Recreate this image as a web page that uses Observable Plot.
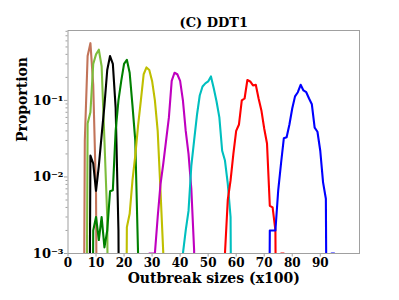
<!DOCTYPE html>
<html>
<head>
<meta charset="utf-8">
<script src="https://cdn.jsdelivr.net/npm/d3@7"></script>
<script src="https://cdn.jsdelivr.net/npm/@observablehq/plot@0.6"></script>
<style>
  html, body { margin: 0; padding: 0; background: #fff; }
</style>
</head>
<body>
<div id="chart"></div>
<script>
// Outbreak size (x100) and proportion per series
const brownX  = [5, 6, 7, 8, 9, 10, 11];
const brownP  = [0, 0.03, 0.38, 0.56, 0.16, 0.006, 0];

const oliveX  = [6, 7, 8, 9, 10, 11, 12, 13, 14, 15];
const oliveP  = [0, 0.05, 0.07, 0.3, 0.4, 0.46, 0.28, 0.03, 0.003, 0];

const blackX  = [7, 8, 9, 10, 11, 12, 13, 14, 15, 16, 17, 18, 19];
const blackP  = [0, 0.019, 0.015, 0.0066, 0.014, 0.035, 0.086, 0.25, 0.38, 0.3, 0.08, 0.002, 0];

const greenX  = [8, 9, 10, 11, 12, 13, 14, 15, 16, 17, 18, 19, 20, 21, 22, 23, 24, 25, 26];
const greenP  = [0, 0.002, 0.003, 0.0015, 0.003, 0.0012, 0.002, 0.0065, 0.0067, 0.04, 0.1, 0.18, 0.3, 0.34, 0.23, 0.086, 0.03, 0.001, 0];

const yellowX = [20, 21, 22, 23, 24, 25, 26, 27, 28, 29, 30, 31, 32, 33, 34, 35];
const yellowP = [0, 0.0022, 0.0033, 0.009, 0.019, 0.047, 0.1, 0.22, 0.27, 0.25, 0.18, 0.1, 0.04, 0.0066, 0.001, 0];

const magentaX = [28, 29, 30, 31, 32, 33, 34, 35, 36, 37, 38, 39, 40, 41, 42, 43, 44, 45, 46];
const magentaP = [0, 0.001, 0.001, 0.001, 0.003, 0.008, 0.015, 0.03, 0.06, 0.18, 0.23, 0.22, 0.18, 0.1, 0.04, 0.02, 0.007, 0.0011, 0];

const cyanX = [40, 41, 42, 43, 44, 45, 46, 47, 48, 49, 50, 51, 52, 53, 54, 55, 56, 57, 58, 59];
const cyanP = [0, 0.001, 0.002, 0.0036, 0.014, 0.03, 0.064, 0.116, 0.152, 0.167, 0.177, 0.206, 0.144, 0.097, 0.06, 0.022, 0.0164, 0.0082, 0.003, 0];

const redX = [55, 56, 57, 58, 59, 60, 61, 62, 63, 64, 65, 66, 67, 68, 69, 70, 71, 72, 73, 74, 75, 76, 77, 78];
const redP = [0, 0.001, 0.005, 0.009, 0.02, 0.04, 0.0485, 0.1, 0.106, 0.185, 0.177, 0.157, 0.16, 0.106, 0.074, 0.043, 0.0274, 0.0042, 0.004, 0.002, 0, 0.001, 0.001, 0];

const blueX = [71, 72, 73, 74, 75, 76, 77, 78, 79, 80, 81, 82, 83, 84, 85, 86, 87, 88, 89, 90, 91, 92, 93, 94, 95, 96];
const blueP = [0, 0.002, 0.002, 0.002, 0.0067, 0.015, 0.032, 0.033, 0.0485, 0.0785, 0.113, 0.128, 0.16, 0.135, 0.128, 0.106, 0.089, 0.044, 0.039, 0.022, 0.0085, 0.0052, 0, 0.001, 0.001, 0];

const seriesNames  = ["S1", "S2", "S3", "S4", "S5", "S6", "S7", "S8", "S9"];
const seriesColors = ["#c27459", "#7dbd3c", "#000000", "#008000", "#bfbf00", "#bf00bf", "#00bfbf", "#ff0000", "#0000ff"];

const xTicks = [0, 10, 20, 30, 40, 50, 60, 70, 80, 90];
const yTicks = [1e-3, 1e-2, 1e-1];
const yTickLabels = ["10\u207B\u00B3", "10\u207B\u00B2", "10\u207B\u00B9"];
const yMinor = [2e-3,3e-3,4e-3,5e-3,6e-3,7e-3,8e-3,9e-3,2e-2,3e-2,4e-2,5e-2,6e-2,7e-2,8e-2,9e-2,2e-1,3e-1,4e-1,5e-1,6e-1,7e-1,8e-1];

const titleText = "(C) DDT1";
const xLabel = "Outbreak sizes (x100)";
const yLabel = "Proportion";

const seriesData = [
  [brownX, brownP], [oliveX, oliveP], [blackX, blackP], [greenX, greenP],
  [yellowX, yellowP], [magentaX, magentaP], [cyanX, cyanP], [redX, redP], [blueX, blueP]
];
const rows = seriesData.flatMap(([xs, ps], k) =>
  xs.map((x, i) => ({series: seriesNames[k], x, p: ps[i]})));

const font = "'DejaVu Serif', serif";
const tickLabelFor = d => yTickLabels[yTicks.findIndex(t => Math.abs(Math.log10(t) - Math.log10(d)) < 1e-6)];

const chart = Plot.plot({
  width: 399,
  height: 300,
  marginLeft: 67.5,
  marginRight: 40,
  marginTop: 30,
  marginBottom: 47,
  style: {fontFamily: font, fontWeight: "bold", fontSize: "12px", background: "#fff", color: "#000"},
  x: {domain: [0, 104]},
  y: {type: "log", domain: [1e-3, 0.82]},
  color: {type: "ordinal", domain: seriesNames, range: seriesColors},
  marks: [
    Plot.line(rows, {
      x: "x",
      y: d => Math.max(d.p, 1e-9),
      z: "series",
      stroke: "series",
      strokeWidth: 2.1,
      clip: true
    }),
    Plot.frame({stroke: "#a0a0a0"}),
    Plot.axisX({
      ticks: xTicks,
      tickSize: 3.5,
      tickPadding: 1,
      fontSize: 12,
      fontWeight: "bold",
      stroke: "#a0a0a0",
      label: null
    }),
    Plot.axisY({
      ticks: yTicks,
      tickFormat: tickLabelFor,
      tickSize: 3.5,
      tickPadding: 1,
      fontSize: 13,
      fontWeight: "bold",
      stroke: "#a0a0a0",
      label: null
    }),
    Plot.axisY({
      ticks: yMinor,
      tickSize: 2,
      stroke: "#a0a0a0",
      tickFormat: () => "",
      label: null
    }),
    Plot.text([xLabel], {
      frameAnchor: "bottom",
      dy: 29,
      fontSize: 14,
      fontWeight: "bold"
    }),
    Plot.text([yLabel], {
      frameAnchor: "left",
      dx: -45.5,
      rotate: -90,
      fontSize: 14,
      fontWeight: "bold"
    }),
    Plot.text([titleText], {
      frameAnchor: "top",
      lineAnchor: "bottom",
      dy: -4,
      fontSize: 13,
      fontWeight: "bold"
    })
  ]
});
document.getElementById("chart").appendChild(chart);
</script>
</body>
</html>
